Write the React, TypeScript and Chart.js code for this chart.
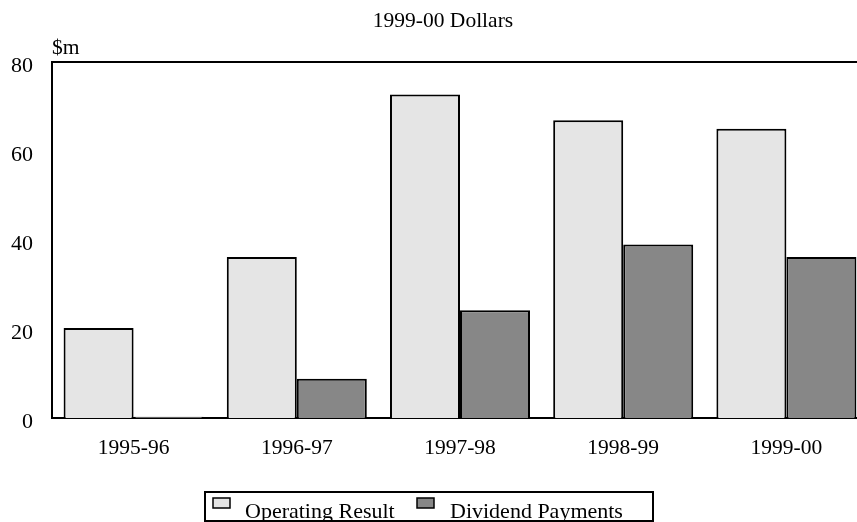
import React, { useEffect, useRef } from "react";
import { Chart, registerables } from "chart.js";

Chart.register(...registerables);

const categories = ["1995-96", "1996-97", "1997-98", "1998-99", "1999-00"];
const operatingResult = [20.2, 36.2, 72.7, 66.9, 65.0];
const dividendPayments = [0.3, 8.8, 24.2, 39.0, 36.2];
const yTicks = [0, 20, 40, 60, 80];
const titleText = "1999-00 Dollars";
const unitText = "$m";
const seriesNames = ["Operating Result", "Dividend Payments"];

const LIGHT = "#e5e5e5";
const DARK = "#878787";
const FONT = "'Liberation Serif', 'Times New Roman', serif";

const decorPlugin = {
  id: "decor",
  afterDraw(chart: any) {
    const ctx = chart.ctx as CanvasRenderingContext2D;
    const ca = chart.chartArea;
    ctx.save();
    // top frame line
    ctx.strokeStyle = "#000";
    ctx.lineWidth = 2;
    ctx.beginPath();
    ctx.moveTo(ca.left - 1, ca.top);
    ctx.lineTo(ca.right, ca.top);
    ctx.stroke();

    // title
    ctx.fillStyle = "#000";
    ctx.font = `21.5px ${FONT}`;
    ctx.textAlign = "center";
    ctx.textBaseline = "alphabetic";
    ctx.fillText(titleText, 443, 27);

    // unit label
    ctx.textAlign = "left";
    ctx.fillText(unitText, 52, 54);

    // legend
    ctx.lineWidth = 2;
    ctx.strokeRect(205, 492, 448, 29);
    const fills = [LIGHT, DARK];
    const swatchX = [213, 417];
    const textX = [245, 450];
    ctx.font = `22px ${FONT}`;
    for (let i = 0; i < seriesNames.length; i++) {
      ctx.fillStyle = fills[i];
      ctx.fillRect(swatchX[i], 498, 17, 10);
      ctx.lineWidth = 1.5;
      ctx.strokeStyle = "#000";
      ctx.strokeRect(swatchX[i], 498, 17, 10);
      ctx.fillStyle = "#000";
      ctx.fillText(seriesNames[i], textX[i], 518);
    }
    ctx.restore();
  },
};

export default function App() {
  const ref = useRef<HTMLCanvasElement | null>(null);

  useEffect(() => {
    if (!ref.current) return;
    const chart = new Chart(ref.current, {
      type: "bar",
      data: {
        labels: categories,
        datasets: [
          {
            label: seriesNames[0],
            data: operatingResult,
            backgroundColor: LIGHT,
            borderColor: "#000",
            borderWidth: 2,
            categoryPercentage: 0.858,
            barPercentage: 1.0,
          },
          {
            label: seriesNames[1],
            data: dividendPayments,
            backgroundColor: DARK,
            borderColor: "#000",
            borderWidth: 2,
            categoryPercentage: 0.858,
            barPercentage: 1.0,
          },
        ],
      },
      options: {
        responsive: false,
        animation: false,
        devicePixelRatio: 1,
        layout: { padding: { left: 0, right: 0, top: 62, bottom: 0 } },
        plugins: {
          legend: { display: false },
          title: { display: false },
          tooltip: { enabled: false },
        },
        scales: {
          x: {
            grid: { display: false, drawTicks: false },
            border: { display: true, color: "#000", width: 2 },
            ticks: {
              color: "#000",
              padding: 17,
              font: { family: FONT, size: 21.5 },
              maxRotation: 0,
            },
            afterFit: (s: any) => {
              s.height = 104;
            },
          },
          y: {
            min: 0,
            max: 80,
            grid: { display: false, drawTicks: false },
            border: { display: true, color: "#000", width: 2 },
            afterBuildTicks: (s: any) => {
              s.ticks = yTicks.map((v) => ({ value: v }));
            },
            ticks: {
              color: "#000",
              padding: 19,
              labelOffset: 4,
              font: { family: FONT, size: 22 },
            },
            afterFit: (s: any) => {
              s.width = 52;
            },
          },
        },
      },
      plugins: [decorPlugin],
    });
    return () => chart.destroy();
  }, []);

  return (
    <div
      style={{
        position: "fixed",
        left: 0,
        top: 0,
        width: 857,
        height: 522,
        overflow: "hidden",
        background: "#fff",
      }}
    >
      <canvas ref={ref} width={868} height={522} style={{ width: 868, height: 522, display: "block" }} />
    </div>
  );
}
